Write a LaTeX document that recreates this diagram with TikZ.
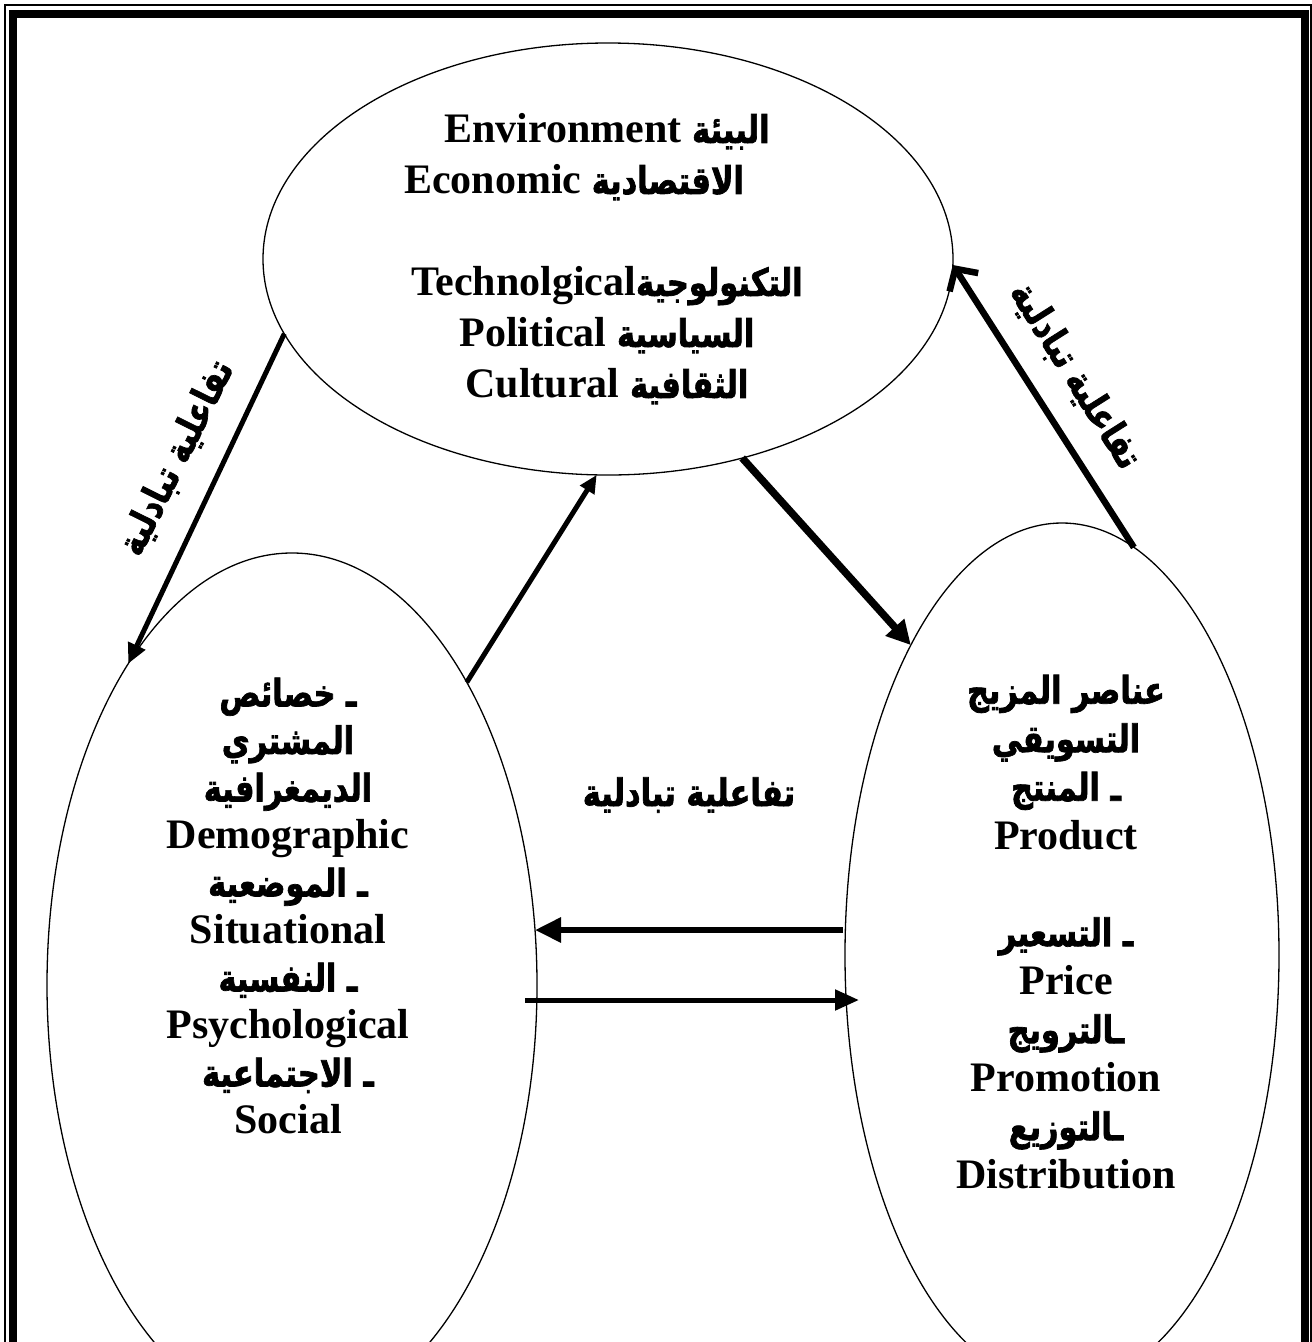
\documentclass[tikz,border=0pt]{standalone}
\usepackage{fontspec}
\setmainfont{Liberation Serif}
\newfontfamily\arabicfont[Script=Arabic, FakeStretch=0.80, BoldFeatures={FakeBold=1.8}]{DejaVu Sans}
\TeXXeTstate=1
\usetikzlibrary{shapes.geometric,arrows.meta}
% Arabic run, set right to left
\newcommand{\artx}[1]{{\arabicfont\bfseries\fontsize{38}{40}\selectfont\beginR #1\endR}}
\begin{document}
\begin{tikzpicture}[x=1pt,y=-1pt,
  oval/.style={draw, ellipse, line width=1.3pt, inner sep=0pt, outer sep=0pt},
  txt/.style={align=center, inner sep=0pt, font=\fontsize{42}{48}\selectfont\bfseries},
  lbl/.style={inner sep=0pt},
  conn/.style={draw, black}]
\useasboundingbox (0,0) rectangle (1312,1342);
\clip (0,0) rectangle (1312,1342);
% page border: thin outer rule and thick inner rule
\draw[line width=1.5pt] (5,5) rectangle (1311,1400);
\draw[line width=8pt] (12.75,13.5) rectangle (1304.5,1400);
% the three ellipses
\node[oval, minimum width=690pt, minimum height=432pt] (env) at (608,259) {};
\node[oval, minimum width=490pt, minimum height=864pt] (cons) at (292,985) {};
\node[oval, minimum width=434pt, minimum height=864pt] (mix) at (1062,955) {};
% ellipse contents
\node[txt, font=\fontsize{42}{51}\selectfont\bfseries] (envtxt) at (607,259) {Environment \artx{البيئة}\\
  Economic \artx{الاقتصادية}\rule{66pt}{0pt}\\
  \mbox{}\\
  Technolgical\artx{التكنولوجية}\\
  Political \artx{السياسية}\\
  Cultural \artx{الثقافية}};
\node[txt, font=\fontsize{42}{47.5}\selectfont\bfseries] (constxt) at (288,906) {\artx{ـ خصائص}\\
  \artx{المشتري}\\
  \artx{الديمغرافية}\\
  Demographic\\
  \artx{ـ الموضعية}\\
  Situational\\
  \artx{ـ النفسية}\\
  Psychological\\
  \artx{ـ الاجتماعية}\\
  Social};
\node[txt, font=\fontsize{42}{48.5}\selectfont\bfseries] (mixtxt) at (1066,932) {\artx{عناصر المزيج}\\
  \artx{التسويقي}\\
  \artx{ـ المنتج}\\
  Product\\
  \mbox{}\\
  \artx{ـ التسعير}\\
  Price\\
  \artx{ـالترويج}\\
  Promotion\\
  \artx{ـالتوزيع}\\
  Distribution};
% interaction labels
\node[lbl] (midlbl) at (689,795) {\artx{تفاعلية تبادلية}};
\node[lbl, rotate=63.6] (leftlbl) at (177,458) {\artx{تفاعلية تبادلية}};
\node[lbl, rotate=-57.7] (rightlbl) at (1075,376) {\artx{تفاعلية تبادلية}};
% levels of the two horizontal connectors
\coordinate (upy) at (0,930);
\coordinate (lowy) at (0,1000);
% connectors
\draw[conn, line width=5pt, -{Triangle[length=20pt,width=18pt]}] (env.193.2) -- (cons.117.3);
\draw[conn, line width=5pt, -{Triangle[length=18pt,width=16pt]}] (cons.60.7) -- (env.267.4);
\draw[conn, line width=7.5pt, -{Triangle[length=24pt,width=24pt]}] (env.-56.7) -- (mix.116.6);
\draw[conn, line width=6.5pt, -{Straight Barb[length=16pt,width=34pt]}] (mix.80.3) -- (env.-1);
\draw[conn, line width=6pt, -{Triangle[length=26pt,width=24pt]}] ([xshift=-2pt]mix.west |- upy) -- ([xshift=-2pt]cons.east |- upy);
\draw[conn, line width=5pt, -{Triangle[length=24pt,width=20pt]}] ([xshift=-12pt]cons.east |- lowy) -- ([xshift=14pt]mix.west |- lowy);
\end{tikzpicture}
\end{document}
